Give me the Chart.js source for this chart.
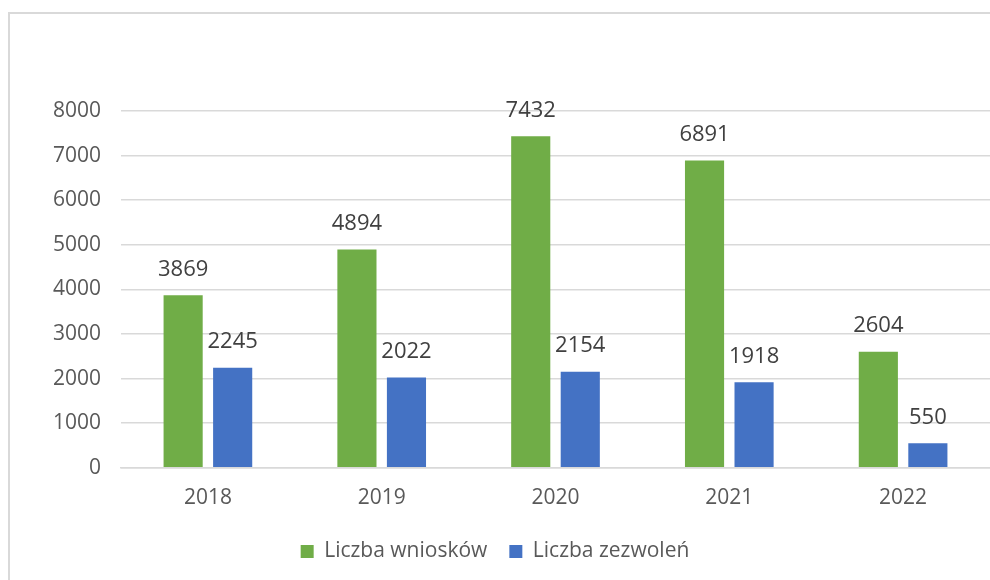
<!DOCTYPE html>
<html>
<head>
<meta charset="utf-8">
<script src="https://cdn.jsdelivr.net/npm/chart.js@4.4.0/dist/chart.umd.min.js"></script>
<style>
  html, body { margin: 0; padding: 0; background: #fff; overflow: hidden; }
  #frame { position: absolute; left: 8px; top: 12px; width: 1000px; height: 600px; border: 2px solid #d9d9d9; }
  #wrap { position: absolute; left: 0; top: 0; width: 990px; height: 580px; }
</style>
</head>
<body>
<div id="frame"></div>
<div id="wrap"><canvas id="chart" width="990" height="580"></canvas></div>
<script>
const years = ['2018', '2019', '2020', '2021', '2022'];
const wnioski = [3869, 4894, 7432, 6891, 2604];
const zezwolenia = [2245, 2022, 2154, 1918, 550];
const yTicks = [0, 1000, 2000, 3000, 4000, 5000, 6000, 7000, 8000];

const FONT = "'Open Sans', 'Noto Sans', sans-serif";
const TEXT = '#595959';

// value labels above each bar
const barLabels = {
    id: 'barLabels',
    afterDatasetsDraw(chart) {
        const ctx = chart.ctx;
        ctx.save();
        ctx.font = '22px ' + FONT;
        ctx.fillStyle = '#404040';
        ctx.textAlign = 'center';
        ctx.textBaseline = 'middle';
        chart.data.datasets.forEach((ds, i) => {
            chart.getDatasetMeta(i).data.forEach((bar, j) => {
                ctx.fillText(String(ds.data[j]), bar.x, bar.y - 26);
            });
        });
        ctx.restore();
    }
};

new Chart(document.getElementById('chart'), {
    type: 'bar',
    data: {
        labels: years,
        datasets: [
            {
                label: 'Liczba wniosków',
                data: wnioski,
                backgroundColor: '#70ad47',
                categoryPercentage: 0.57,
                barPercentage: 0.79
            },
            {
                label: 'Liczba zezwoleń',
                data: zezwolenia,
                backgroundColor: '#4472c4',
                categoryPercentage: 0.57,
                barPercentage: 0.79
            }
        ]
    },
    options: {
        responsive: false,
        animation: false,
        layout: { padding: { top: 111, right: 0, left: 0, bottom: 8 } },
        scales: {
            y: {
                min: 0,
                max: 8000,
                afterBuildTicks: (s) => { s.ticks = yTicks.map(v => ({ value: v })); },
                afterFit: (s) => { s.width = 121; },
                border: { display: false },
                grid: { color: '#d9d9d9', lineWidth: 1.5, drawTicks: false },
                ticks: {
                    padding: 20, color: TEXT, font: { family: FONT, size: 21 },
                    callback: (v) => String(v)
                }
            },
            x: {
                afterFit: (s) => { s.height -= 10; },
                border: { color: '#d9d9d9', width: 1.5 },
                grid: { display: false, drawTicks: false },
                ticks: { padding: 18, color: TEXT, font: { family: FONT, size: 21 } }
            }
        },
        plugins: {
            tooltip: { enabled: false },
            legend: {
                position: 'bottom',
                labels: {
                    color: TEXT,
                    font: { family: FONT, size: 21 },
                    boxWidth: 13,
                    boxHeight: 13,
                    padding: 22
                }
            }
        }
    },
    plugins: [barLabels]
});
</script>
</body>
</html>
